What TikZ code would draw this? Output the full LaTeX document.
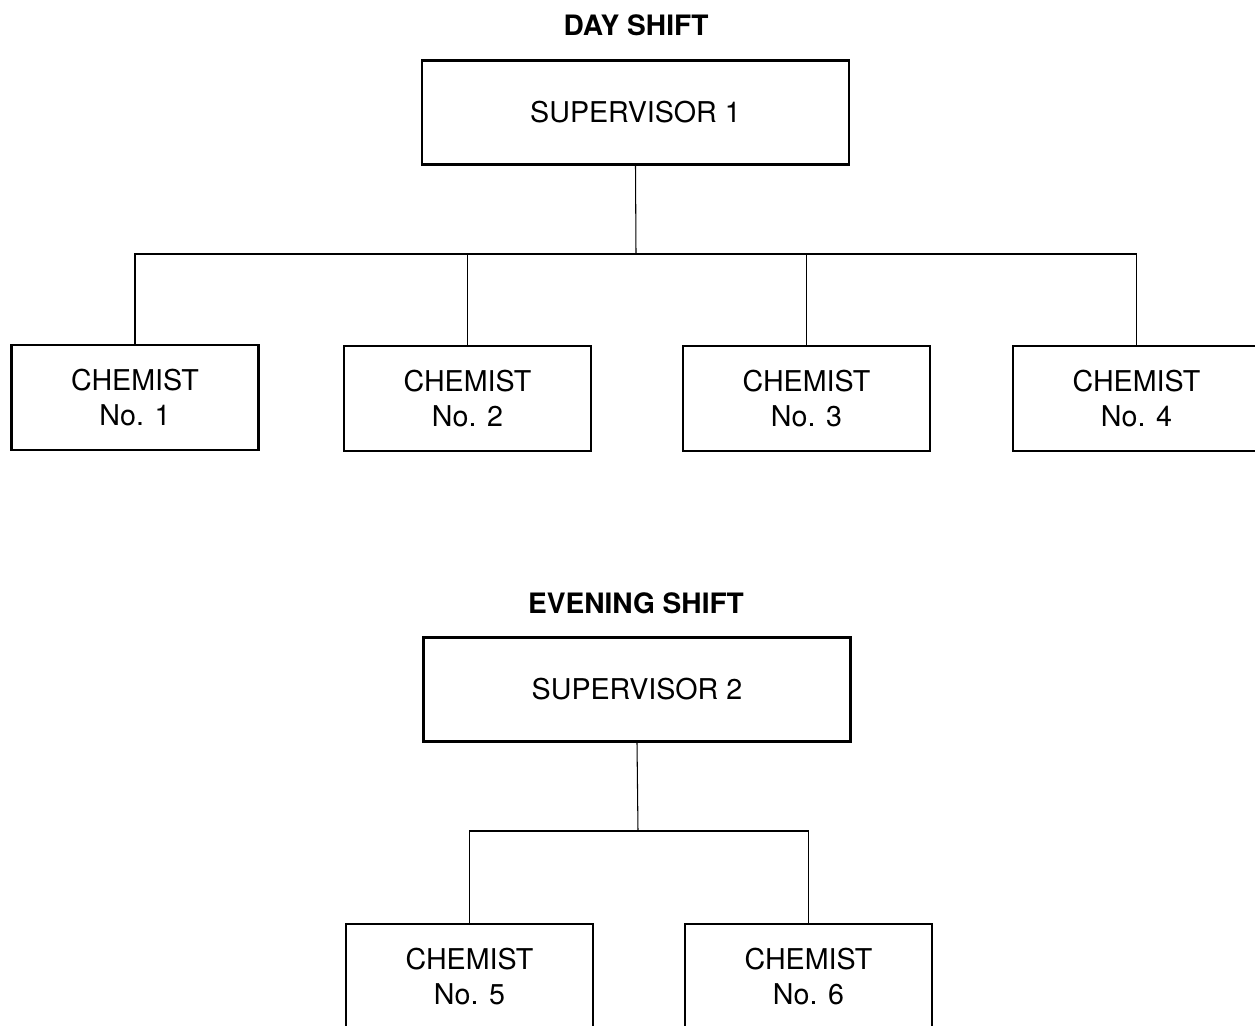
\documentclass[tikz,border=0pt]{standalone}
\usepackage{fontspec}
\setmainfont{TeX Gyre Heros}
\usetikzlibrary{positioning}

\tikzset{
	chembox/.style={draw, line width=1.4pt, minimum width=4.94cm, minimum height=2.1cm,
		align=center, inner sep=0pt, font=\fontsize{16.3}{19.4}\selectfont},
	supbox/.style={chembox, minimum width=8.54cm, minimum height=2.08cm},
	shifttitle/.style={font=\fontsize{16}{18}\selectfont\bfseries},
	conn/.style={line width=0.6pt}
}

\begin{document}
\begin{tikzpicture}[x=0.02cm, y=-0.02cm]
	\useasboundingbox (0,0) rectangle (1255,1026);
	\clip (0,0) rectangle (1255,1026);

	% day shift
	\node[shifttitle] (daytitle) at (636,25) {DAY SHIFT};
	\node[supbox] (sup1) at (635.5,112.5) {SUPERVISOR 1};
	\coordinate (bus1) at (636,254);

	\node[chembox] (chem1) at (135,397.5) {CHEMIST\\No. 1};
	\node[chembox] (chem2) at (467.5,398.5) {CHEMIST\\No. 2};
	\node[chembox] (chem3) at (806.5,398.5) {CHEMIST\\No. 3};
	\node[chembox] (chem4) at (1136.5,398.5) {CHEMIST\\No. 4};

	\draw[conn] (sup1.south) -- (bus1);
	\draw[conn] (chem1.north) |- (bus1) -| (chem4.north);
	\draw[conn] (chem2.north) -- (chem2.north |- bus1);
	\draw[conn] (chem3.north) -- (chem3.north |- bus1);

	% evening shift
	\node[shifttitle] (evetitle) at (636,603) {EVENING SHIFT};
	\node[supbox] (sup2) at (637,689.5) {SUPERVISOR 2};
	\coordinate (bus2) at (638,831);

	\node[chembox] (chem5) at (469.5,976.5) {CHEMIST\\No. 5};
	\node[chembox] (chem6) at (808.5,976.5) {CHEMIST\\No. 6};

	\draw[conn] (sup2.south) -- (bus2);
	\draw[conn] (chem5.north) |- (bus2) -| (chem6.north);
\end{tikzpicture}
\end{document}
